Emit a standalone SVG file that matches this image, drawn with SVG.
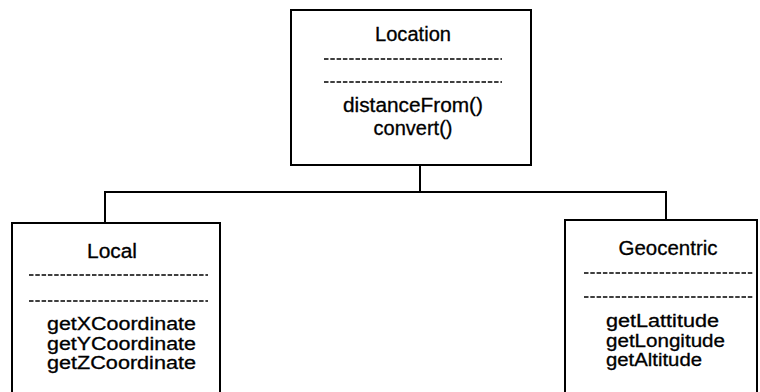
<svg xmlns="http://www.w3.org/2000/svg" width="760" height="392" viewBox="0 0 760 392">
<style>
.box{fill:#fff;stroke:#000;stroke-width:2}
.sep{stroke:#000;stroke-width:1.7;stroke-dasharray:4.5 1.8;fill:none}
.conn{stroke:#000;stroke-width:2;fill:none}
text{font-family:"Liberation Sans",Arial,sans-serif;fill:#000;stroke:#000;stroke-width:0.3;font-size:20px}
.m{font-size:17.5px}
</style>
<rect width="760" height="392" fill="#fff"/>
<g id="connectors">
<path class="conn" d="M420,165 V192"/>
<path class="conn" d="M105,223 V192 H666 V220"/>
</g>
<g id="location">
<rect class="box" x="291" y="10" width="240" height="155"/>
<text x="413" y="41" text-anchor="middle" textLength="76" lengthAdjust="spacingAndGlyphs">Location</text>
<line class="sep" x1="324" y1="59" x2="502" y2="59"/>
<line class="sep" x1="324" y1="82" x2="502" y2="82"/>
<text x="413" y="112" text-anchor="middle" textLength="140" lengthAdjust="spacingAndGlyphs">distanceFrom()</text>
<text x="413" y="135" text-anchor="middle" textLength="79" lengthAdjust="spacingAndGlyphs">convert()</text>
</g>
<g id="local">
<rect class="box" x="12" y="223" width="208" height="190"/>
<text x="112" y="258" text-anchor="middle" textLength="50" lengthAdjust="spacingAndGlyphs">Local</text>
<line class="sep" x1="29" y1="275" x2="208" y2="275"/>
<line class="sep" x1="29" y1="301" x2="208" y2="301"/>
<text class="m" x="47" y="330" textLength="149" lengthAdjust="spacingAndGlyphs">getXCoordinate</text>
<text class="m" x="47" y="349.6" textLength="149" lengthAdjust="spacingAndGlyphs">getYCoordinate</text>
<text class="m" x="47" y="369.2" textLength="149" lengthAdjust="spacingAndGlyphs">getZCoordinate</text>
</g>
<g id="geocentric">
<rect class="box" x="565" y="220" width="192" height="190"/>
<text x="668" y="255" text-anchor="middle" textLength="99" lengthAdjust="spacingAndGlyphs">Geocentric</text>
<line class="sep" x1="584" y1="273" x2="753" y2="273"/>
<line class="sep" x1="584" y1="297" x2="753" y2="297"/>
<text class="m" x="606" y="327" textLength="113" lengthAdjust="spacingAndGlyphs">getLattitude</text>
<text class="m" x="606" y="346.6" textLength="119" lengthAdjust="spacingAndGlyphs">getLongitude</text>
<text class="m" x="606" y="366.2" textLength="96" lengthAdjust="spacingAndGlyphs">getAltitude</text>
</g>
</svg>
